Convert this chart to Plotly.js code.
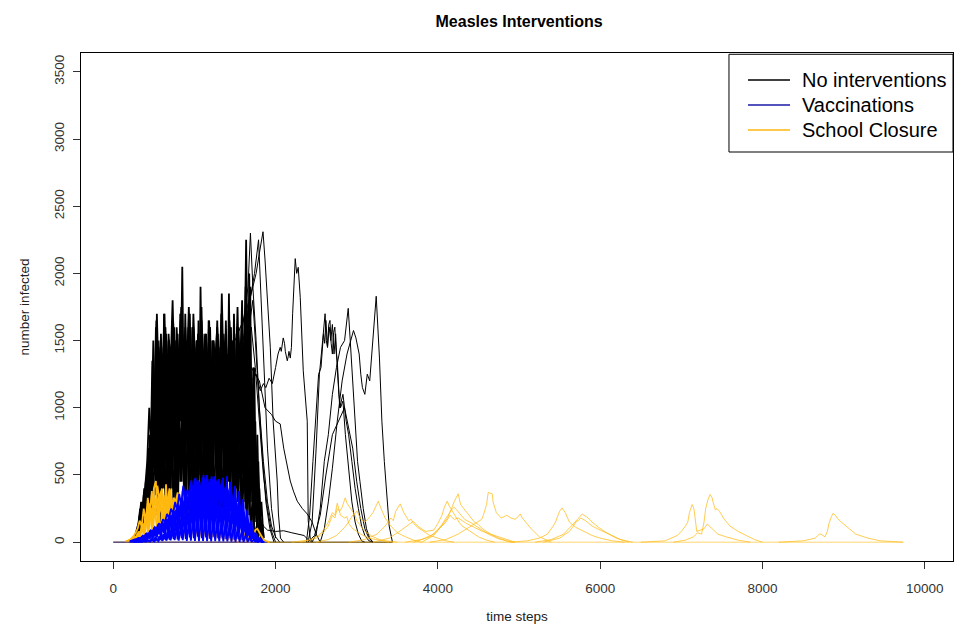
<!DOCTYPE html>
<html>
<head>
<meta charset="utf-8">
<script src="https://cdn.plot.ly/plotly-3.0.1.min.js"></script>
<style>html,body{margin:0;padding:0;background:#fff;}#chart{width:956px;height:624px;}</style>
</head>
<body>
<div id="chart"></div>
<script>
// ---------------- DATA ----------------
const STEP = 25; // time steps between stored samples of the dense runs

// No interventions: dense runs (start time, values every STEP)
const blackDenseStart = [250, 275, 300, 312, 262, 256, 268, 281, 293, 306, 318];
const blackDense1 = [20,60,120,90,250,180,400,300,620,450,1250,600,1500,700,1400,500,1550,800,1450,400,1600,650,1350,900,2050,700,1500,350,1600,800,1450,600,1650,500,1550,900,1400,450,1500,700,1350,600,1450,300,1550,800,1400,500,1600,650,1300,400,1450,700,1350,300,1500,600,1200,250,900,150,400,80,20];
const blackDense2 = [30,80,200,150,350,250,500,380,900,550,1600,450,1350,300,1700,600,1400,250,1650,900,1500,350,1700,550,1450,800,1600,400,1600,700,1500,300,1900,850,1400,500,1650,300,1500,750,1400,250,1550,900,1450,400,1850,600,1500,350,1600,800,1450,500,1700,300,2000,500,1300,200,800,100,300,40];
const blackDense3 = [100,60,280,200,450,300,800,200,1100,350,1200,150,1000,400,1250,200,1100,500,1300,250,1150,450,1250,150,1100,600,1300,300,1200,200,1350,500,1100,250,1250,400,1150,100,1300,550,1100,300,1250,200,1150,450,1300,250,1000,500,1200,150,1100,400,900,200,700,100,400,50,150,10];
const blackDense4 = [80,200,120,380,260,650,400,950,500,1400,700,1550,900,1350,650,1500,1000,1650,750,1400,1050,1550,600,1700,950,1450,700,1600,1100,1400,800,1750,900,1500,700,1600,1000,1450,650,1550,1050,1400,800,1650,950,1500,600,1700,900,1550,1100,1800,700,1650,400,1900,300,1300,150,600,50];
const blackDense5 = [10,40,90,200,160,330,280,550,420,1000,800,1700,1100,1450,850,1600,1200,1500,900,1650,1000,1450,1300,1750,800,1600,1200,1400,1000,1700,1250,1500,950,1650,1100,1400,1300,1600,900,1500,1200,1450,1000,1850,1150,1500,900,1600,1250,1400,1000,1550,800,1700,1100,2250,900,1500,500,800,200,300,60,10];
const blackDense6 = [15,50,100,180,140,300,220,480,350,800,600,1300,900,1450,1000,1250,700,1500,1100,1350,800,1600,1200,1300,950,1550,1050,1400,700,1450,1150,1300,900,1600,1000,1350,1200,1500,800,1400,1100,1650,950,1300,1150,1450,850,1550,1200,1350,900,1500,1050,1400,700,1600,1000,1300,600,900,300,500,120,150,30];
const blackDense7 = [25,70,150,110,280,350,260,600,450,1100,700,1400,500,1200,900,1600,650,1300,1050,1450,600,1350,1150,1500,700,1250,1000,1700,850,1350,600,1550,1100,1250,750,1450,1050,1600,650,1300,1200,1450,900,1550,700,1350,1100,1500,800,1400,650,1600,1150,1300,900,1750,600,1200,400,700,200,350,80,30];
const blackDense8 = [40,120,90,260,200,420,330,750,500,1200,400,900,300,1100,450,1000,350,1150,550,950,300,1050,500,1200,400,1000,650,1150,300,1050,550,900,350,1200,500,1000,400,1100,600,950,300,1150,500,1050,350,1000,550,1200,400,900,300,1100,500,800,250,900,300,600,150,300,50,10];
const blackDense9 = [60,150,100,300,180,500,250,700,300,900,200,800,350,950,250,850,400,1000,200,900,300,850,450,1000,250,950,350,800,200,1000,400,900,300,1050,250,850,450,950,200,1000,350,900,250,850,400,1000,300,950,200,900,350,800,250,700,150,600,100,350,40,120,10];
const blackDense10 = [120,250,180,400,300,700,500,1350,900,1650,1100,1500,1250,1700,1000,1550,1300,1800,1150,1500,1350,1650,1000,1550,1250,1750,1100,1600,1300,1500,1050,1700,1250,1550,1150,1650,1000,1500,1350,1600,1100,1700,1250,1550,1000,1650,1300,1500,1150,1750,1000,1600,1250,1900,1100,1450,700,1000,350,400,100,30];
const blackDense11 = [150,300,220,450,600,1000,700,1500,800,1300,500,1450,850,1250,600,1400,900,1200,700,1550,1000,1300,650,1450,900,1250,750,1500,1000,1300,600,1400,850,1550,700,1250,950,1400,650,1500,1000,1300,800,1450,600,1350,950,1550,750,1300,900,1450,650,1350,500,1100,300,700,150,300,40];

// No interventions: individual late runs (time, value)
const tBlackA = [1500,1600,1700,1760,1800,1845,1870,1900,1935,1970,2000,2020,2035,2060,2100];
const vBlackA = [1500,1650,1850,2000,2150,2310,2100,1800,1450,900,600,455,210,30,0];
const tBlackB = [1550,1620,1660,1690,1720,1760,1800,1850,1900,1950,2000,2050];
const vBlackB = [1400,1700,1900,2300,1900,1500,1000,600,300,120,40,0];
const tBlackC = [1600,1680,1740,1790,1820,1860,1900,1950,2000];
const vBlackC = [1500,1800,2000,2250,1800,1200,700,250,30];
const tBlackD = [1600,1700,1760,1811,1850,1880,1920,1960,2000,2030,2057,2070,2094,2110,2120,2144,2155,2165,2181,2195,2210,2242,2260,2279,2304,2341,2390,2402,2427,2460];
const vBlackD = [1300,1200,1250,1127,1180,1150,1220,1180,1300,1400,1450,1420,1520,1480,1420,1350,1380,1420,1370,1450,1700,2110,2000,2045,1820,1275,900,160,30,0];
const tBlackE = [1700,1800,1870,1950,2000,2057,2100,2144,2181,2220,2267,2330,2390,2450,2500,2550];
const vBlackE = [1300,1200,1000,950,900,880,700,550,455,380,305,250,210,150,60,0];
const tBlackF = [2400,2450,2500,2540,2580,2610,2625,2640,2655,2670,2685,2700,2715,2730,2745,2760,2790,2830,2870,2900,2940,2980,3020,3060,3100,3150,3200];
const vBlackF = [0,150,700,1250,1500,1700,1500,1450,1620,1650,1480,1400,1560,1600,1420,1350,1000,1100,900,800,600,400,250,120,50,10,0];
const tBlackG = [2450,2500,2550,2600,2650,2700,2750,2800,2850,2895,2920,2950,2980,3010,3040,3080,3120,3160,3200];
const vBlackG = [0,60,250,600,800,1100,1300,1450,1500,1740,1500,1200,900,600,450,250,100,30,0];
const tBlackH = [2550,2600,2650,2700,2760,2820,2880,2930,2960,2990,3030,3050,3070,3100,3130,3160,3180,3200,3240,3280,3310,3340,3370,3400,3440];
const vBlackH = [0,100,300,550,900,1200,1400,1500,1575,1520,1400,1250,1150,1100,1250,1200,1350,1500,1830,1370,900,600,350,120,0];
const tBlackI = [2380,2420,2460,2500,2530,2560,2590,2605,2620,2640,2650,2660,2680,2690,2700,2720,2730,2740,2760,2780,2800,2830,2860,2900,2940,2980,3020,3060,3100];
const vBlackI = [0,200,600,1000,1250,1300,1550,1480,1650,1450,1560,1600,1500,1580,1620,1400,1500,1550,1300,1100,1000,1050,800,550,300,150,60,10,0];
const tBlackJ = [2400,2480,2550,2620,2700,2780,2850,2900,2950,3000,3050,3100,3150,3200];
const vBlackJ = [0,50,200,500,800,900,1000,850,700,450,250,100,30,0];
const tBlackK = [1700,1800,1850,1900,2000,2100,2200,2300,2350,2400,2450];
const vBlackK = [400,200,120,90,80,85,70,60,50,20,0];
const tBlackL = [1600,1700,1750,1800,1850,1900,1950,2000];
const vBlackL = [1400,1600,1300,900,500,250,80,0];
const tBlackM = [1650,1720,1780,1830,1880,1930,1980];
const vBlackM = [1500,1800,1200,700,300,100,0];
const tBlackZero = [0, 3440];
const vBlackZero = [0, 0];

// Vaccinations: dense runs
const blueDenseStart = [200, 212, 225, 206, 218, 231, 237, 243, 250, 256];
const blueDense1 = [5,8,10,15,20,18,30,25,40,30,55,40,70,50,90,60,110,70,130,80,150,90,170,100,190,110,220,120,250,130,290,140,340,150,420,160,400,150,450,170,470,160,440,180,460,150,480,170,490,160,450,140,420,130,380,110,320,90,240,60,160,30,60,15,20,5,0];
const blueDense2 = [8,12,20,15,30,25,45,20,60,30,80,25,100,35,120,30,140,40,170,50,190,45,210,60,240,50,270,70,300,60,330,80,360,70,380,90,400,75,410,60,420,80,430,70,380,60,370,90,390,50,340,70,300,40,260,60,220,30,160,40,100,20,50,10,20,5,0];
const blueDense3 = [3,10,15,25,20,40,35,60,50,80,65,100,80,130,100,150,120,170,140,200,160,230,190,280,210,330,240,380,260,430,250,470,280,440,300,480,270,500,310,460,280,490,300,470,260,440,240,400,220,360,190,300,160,250,120,200,80,130,50,80,30,40,15,10,5];
const blueDense4 = [4,10,12,20,15,28,35,30,50,45,65,55,85,70,110,90,130,100,160,120,190,140,210,170,250,190,300,220,330,250,360,280,400,300,380,330,430,310,460,350,440,320,470,360,450,330,420,300,400,280,360,240,330,210,280,180,220,140,170,100,110,60,60,30,25,10,0];
const blueDense5 = [2,6,10,14,18,26,22,38,34,52,46,70,58,90,75,115,95,140,110,165,130,200,150,260,180,310,200,350,230,400,260,420,290,460,250,430,300,470,280,450,310,480,270,440,300,460,260,410,240,380,200,340,170,290,140,230,110,170,80,110,50,60,25,20,8,0];
const blueDense6 = [5,9,16,12,24,30,42,36,58,50,76,64,96,80,125,100,150,115,180,135,215,160,250,190,290,215,320,250,350,280,380,300,410,330,390,350,420,330,445,360,430,340,455,320,420,300,385,280,350,250,310,220,270,180,230,140,180,100,120,60,70,30,30,10,0];
const blueDense7 = [6,14,20,32,28,48,44,66,60,88,78,112,96,140,120,170,150,210,180,250,210,300,240,360,280,420,310,390,350,460,330,480,370,450,340,500,360,470,330,490,350,460,310,430,290,400,260,370,230,330,190,280,150,220,110,160,70,100,40,50,15,5,0];
const blueDense8 = [2,5,3,8,5,12,6,18,8,25,10,35,12,45,15,60,18,80,20,110,25,140,20,170,30,200,25,230,35,260,30,280,40,300,30,320,35,310,25,330,40,300,30,320,35,290,25,270,30,250,20,230,25,200,15,170,20,140,10,100,8,60,5,30,0];
const blueDense9 = [4,10,8,16,12,26,18,40,30,60,45,85,60,110,80,140,100,170,120,200,140,240,160,270,180,300,170,330,200,350,190,370,210,340,180,360,200,380,170,350,190,330,160,320,150,300,140,270,120,240,100,200,80,160,60,120,40,80,25,40,10,5,0];
const blueDense10 = [1,3,2,5,3,8,4,12,5,18,6,25,8,35,10,50,12,65,14,80,15,100,12,120,15,140,10,150,12,160,10,170,8,180,10,175,8,170,6,165,8,160,5,150,6,140,5,130,4,120,3,100,2,80,2,60,1,40,1,20,0];
const tBlueZero = [0, 1900];
const vBlueZero = [0, 0];

// School closure: dense early runs
const yellowDenseStart = [150, 162, 175, 156, 168, 181];
const yellowDense1 = [5,10,15,10,30,20,70,30,130,50,210,70,290,90,400,455,110,340,400,120,430,150,390,110,330,140,360,100,380,130,300,90,250,120,360,80,200,70,150,60,130,50,120,40,110,50,100,40,90,30,80,40,70,30,75,25,60,30,70,20,50,30,60,40,90,100,70,40,20,10,5,0];
const yellowDense2 = [5,12,20,25,40,30,80,50,140,60,200,80,240,70,260,100,230,60,250,90,270,70,240,100,250,60,220,80,230,50,200,70,180,60,150,50,130,40,110,45,100,30,90,35,80,30,75,25,70,20,65,30,60,20,55,25,50,15,45,20,40,60,80,50,30,15,5,0];
const yellowDense3 = [8,15,30,45,70,100,160,120,250,150,330,200,380,180,300,220,360,170,310,200,340,160,290,190,320,150,270,130,230,110,180,90,140,80,120,70,100,60,90,50,80,40,70,35,60,30,50,25,40,20,30,15,20,10,5,0];
const yellowDense4 = [4,8,12,18,25,35,50,65,90,120,160,200,260,230,300,250,340,280,360,220,310,260,350,240,300,270,330,200,280,230,310,180,260,150,220,130,180,110,150,95,130,85,115,75,100,65,90,55,80,50,70,45,60,40,55,35,50,30,45,25,40,20,35,15,25,10,5,0];
const yellowDense5 = [6,10,16,22,32,45,60,80,110,150,190,240,300,350,270,420,320,380,290,350,310,400,270,330,300,370,250,290,320,240,210,270,170,200,140,160,120,130,100,110,90,95,80,85,70,75,60,65,55,60,45,50,40,45,35,40,30,80,60,30,15,5,0];
const yellowDense6 = [5,12,20,30,42,58,75,95,130,170,210,180,250,200,230,190,260,210,240,200,270,180,230,190,250,170,220,160,200,140,170,120,150,100,130,90,115,80,100,70,90,60,80,50,70,45,60,40,55,35,50,30,45,25,40,20,30,15,10,5,0];

// School closure: late runs (time, value)
const tYellow1 = [2300,2400,2450,2500,2550,2600,2650,2700,2730,2760,2790,2820,2858,2880,2900,2930,2950,2980,3000,3050,3100,3150,3200,3300,3400,3500];
const vYellow1 = [0,10,20,30,50,80,120,200,180,250,230,260,330,290,270,240,220,200,160,120,80,60,40,15,5,0];
const tYellow2 = [2200,2400,2500,2550,2600,2650,2700,2730,2760,2780,2800,2850,2880,2900,2950,3000,3050,3150,3300,3400];
const vYellow2 = [0,15,40,60,100,150,220,200,290,240,200,180,190,140,100,80,60,30,10,0];
const tYellow3 = [2500,2650,2750,2800,2850,2900,2950,3005,3030,3050,3100,3150,3200,3230,3265,3300,3330,3350,3420,3500,3600,3700,3800];
const vYellow3 = [0,20,50,80,110,150,200,230,190,170,150,180,220,260,305,250,210,180,120,70,40,15,0];
const tYellow4 = [2900,3100,3250,3300,3350,3420,3450,3480,3510,3536,3560,3580,3640,3670,3700,3750,3800,3900,4000,4100,4200];
const vYellow4 = [0,20,60,90,120,180,160,230,260,285,250,220,160,170,140,110,90,50,30,10,0];
const tYellow5 = [3200,3400,3550,3600,3650,3696,3720,3750,3850,3950,4000,4050,4080,4115,4140,4160,4220,4260,4300,4400,4500,4600,4700];
const vYellow5 = [0,30,90,110,130,155,140,120,80,90,140,200,260,305,270,250,180,150,120,80,40,15,0];
const tYellow6 = [3600,3800,3950,4050,4100,4150,4200,4230,4250,4280,4320,4350,4380,4450,4500,4550,4650,4750,4850,4950];
const vYellow6 = [0,20,60,130,180,220,300,330,360,280,250,230,200,150,130,100,60,30,10,0];
const tYellow7 = [3900,4100,4250,4400,4500,4540,4560,4600,4620,4645,4670,4680,4720,4780,4820,4850,4900,4950,4990,5015,5040,5080,5150,5250,5400];
const vYellow7 = [0,20,60,120,160,170,200,280,370,365,360,300,220,180,190,200,180,170,190,210,180,150,100,40,0];
const tYellow8 = [3700,3900,4000,4050,4100,4150,4200,4250,4350,4450,4550,4650,4750,4850,4950];
const vYellow8 = [0,40,90,120,150,200,170,180,140,110,80,60,40,20,0];
const tYellow9 = [3800,3950,4030,4080,4120,4150,4200,4230,4260,4330,4420,4520,4620,4750,4900];
const vYellow9 = [0,50,110,150,180,230,260,240,220,170,140,100,60,25,0];
const tYellow10 = [4900,5100,5250,5350,5420,5450,5480,5500,5530,5550,5570,5620,5660,5700,5800,5900,6000,6150,6300];
const vYellow10 = [0,10,30,60,120,150,200,230,255,240,220,150,130,110,80,50,30,10,0];
const tYellow11 = [5200,5400,5550,5600,5650,5690,5720,5750,5780,5800,5830,5870,5900,5980,6080,6200,6350];
const vYellow11 = [0,20,60,90,120,150,170,190,210,200,190,170,150,110,70,30,0];
const tYellow12 = [5300,5500,5620,5660,5700,5730,5760,5790,5820,5860,5900,6000,6100,6250,6400];
const vYellow12 = [0,30,80,110,150,160,180,170,160,140,120,90,60,20,0];
const tYellow13 = [6500,6800,6950,7000,7050,7080,7100,7120,7133,7150,7160,7190,7230,7280,7320,7380,7450,7550,7700,7850];
const vYellow13 = [0,10,50,80,120,150,220,260,280,260,230,80,90,100,135,100,60,40,15,0];
const tYellow14 = [6900,7050,7150,7200,7250,7280,7300,7330,7355,7380,7390,7420,7440,7470,7500,7530,7600,7700,7800,7900,8000];
const vYellow14 = [0,15,40,70,60,150,250,320,355,330,300,240,250,230,200,170,120,80,50,20,0];
const tYellow15 = [8200,8500,8650,8700,8720,8770,8800,8820,8850,8870,8900,8920,8970,9050,9150,9300,9450,9600,9735];
const vYellow15 = [0,10,30,60,60,40,80,140,190,215,200,180,150,110,60,30,10,5,0];
const tYellowZero = [0, 9735];
const vYellowZero = [0, 0];

const seriesNames = ['No interventions', 'Vaccinations', 'School Closure'];
const xTicks = [0, 2000, 4000, 6000, 8000, 10000];
const yTicks = [0, 500, 1000, 1500, 2000, 2500, 3000, 3500];

// ---------------- STYLE ----------------
const COL = {black: '#000000', blue: '#0000FF', yellow: '#FFB90F'};
const FONT = 'Liberation Sans, Arial, sans-serif';

const traces = [];
function addRun(x, y, color, opacity, width) {
  traces.push({
    type: 'scatter', mode: 'lines', x: x, y: y,
    line: {color: color, width: width || 1}, showlegend: false, hoverinfo: 'skip',
    opacity: opacity || 1
  });
}
function addDense(start, vals, color, width) {
  addRun(vals.map((_, i) => start + i * STEP), vals, color, 1, width);
}

// black
addRun(tBlackZero, vBlackZero, COL.black);
[blackDense1, blackDense2, blackDense3, blackDense4, blackDense5, blackDense6, blackDense7,
 blackDense8, blackDense9, blackDense10, blackDense11].forEach((v, i) => addDense(blackDenseStart[i], v, COL.black, 1.8));
[[tBlackA,vBlackA],[tBlackB,vBlackB],[tBlackC,vBlackC],[tBlackD,vBlackD],[tBlackE,vBlackE],
 [tBlackF,vBlackF],[tBlackG,vBlackG],[tBlackH,vBlackH],[tBlackI,vBlackI],[tBlackJ,vBlackJ],
 [tBlackK,vBlackK],[tBlackL,vBlackL],[tBlackM,vBlackM]].forEach(p => addRun(p[0], p[1], COL.black));

// yellow early
addRun(tYellowZero, vYellowZero, COL.yellow, 0.6);
[yellowDense1, yellowDense2, yellowDense3, yellowDense4, yellowDense5, yellowDense6]
  .forEach((v, i) => addDense(yellowDenseStart[i], v, COL.yellow, 1.8));

// blue
addRun(tBlueZero, vBlueZero, COL.blue, 0.5);
[blueDense1, blueDense2, blueDense3, blueDense4, blueDense5, blueDense6, blueDense7, blueDense8, blueDense9, blueDense10]
  .forEach((v, i) => addDense(blueDenseStart[i], v, COL.blue, 1.8));

// yellow late
[[tYellow1,vYellow1],[tYellow2,vYellow2],[tYellow3,vYellow3],[tYellow4,vYellow4],[tYellow5,vYellow5],
 [tYellow6,vYellow6],[tYellow7,vYellow7],[tYellow8,vYellow8],[tYellow9,vYellow9],[tYellow10,vYellow10],
 [tYellow11,vYellow11],[tYellow12,vYellow12],[tYellow13,vYellow13],[tYellow14,vYellow14],[tYellow15,vYellow15]]
 .forEach(p => addRun(p[0], p[1], COL.yellow, 0.72));

// custom legend (paper coordinates)
const legendColors = [COL.black, '#1a1aa8', COL.yellow];
const legendRowsY = [0.9468, 0.8976, 0.8484];
const shapes = [{type: 'rect', xref: 'paper', yref: 'paper', x0: 0.7431, x1: 1.0, y0: 0.8051, y1: 0.9975,
                 line: {color: '#000', width: 1}, fillcolor: '#fff', layer: 'above'}];
const annotations = [];
seriesNames.forEach((name, i) => {
  shapes.push({type: 'line', xref: 'paper', yref: 'paper', x0: 0.7649, x1: 0.8131, y0: legendRowsY[i], y1: legendRowsY[i],
               line: {color: legendColors[i], width: 1.6}, layer: 'above'});
  annotations.push({xref: 'paper', yref: 'paper', x: 0.8245, y: legendRowsY[i], xanchor: 'left', yanchor: 'middle',
                    text: name, showarrow: false, font: {family: FONT, size: 20, color: '#000'}});
});

const layout = {
  width: 956, height: 624,
  margin: {l: 81, r: 3, t: 53, b: 63, pad: 0},
  paper_bgcolor: '#fff', plot_bgcolor: '#fff',
  font: {family: FONT, size: 13.5, color: '#000'},
  title: {text: '<b>Measles Interventions</b>', x: 0.543, xanchor: 'center', y: 1 - 21/624, yanchor: 'middle',
          font: {family: FONT, size: 16, color: '#000'}},
  showlegend: false,
  shapes: shapes, annotations: annotations,
  xaxis: {
    range: [-398, 10348], tickmode: 'array', tickvals: xTicks, ticktext: xTicks.map(String),
    showgrid: false, zeroline: false, showline: true, mirror: true, linecolor: '#000', linewidth: 1,
    ticks: 'outside', ticklen: 7, tickcolor: '#333', tickfont: {size: 13.5, color: '#333'}, ticklabelstandoff: 8,
    title: {text: 'time steps', font: {size: 13.5, color: '#222'}, standoff: 18}
  },
  yaxis: {
    range: [-140, 3640], tickmode: 'array', tickvals: yTicks, ticktext: yTicks.map(String), tickangle: -90,
    showgrid: false, zeroline: false, showline: true, mirror: true, linecolor: '#000', linewidth: 1,
    ticks: 'outside', ticklen: 7, tickcolor: '#333', tickfont: {size: 13.5, color: '#333'}, ticklabelstandoff: 4,
    title: {text: 'number infected', font: {size: 13.5, color: '#222'}, standoff: 18}
  }
};

Plotly.newPlot('chart', traces, layout, {staticPlot: true, displayModeBar: false});
</script>
</body>
</html>
